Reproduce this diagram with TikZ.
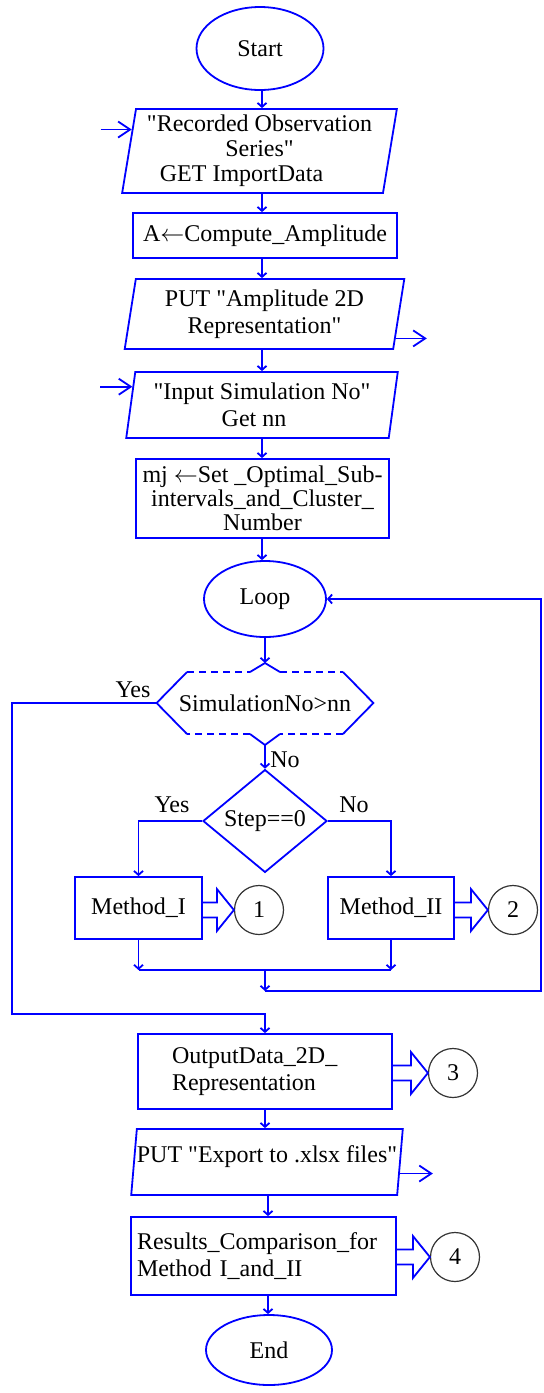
\documentclass[tikz,border=0pt]{standalone}
\usepackage{fontspec}
\setmainfont{Liberation Serif}[Ligatures=TeXOff]
\usetikzlibrary{shapes.geometric,arrows.meta,calc}

% hollow block arrow from a box to its connector circle
\newcommand\hollowarrow[2]{%
  \draw[fat] let \p1=(#1.east), \p2=(#2.west) in
    (\x1,\y2+3.75pt) -- (\x2-8.5pt,\y2+3.75pt) -- (\x2-8.5pt,\y2+10.5pt)
    -- (\x2,\y2) -- (\x2-8.5pt,\y2-10.5pt) -- (\x2-8.5pt,\y2-3.75pt) -- (\x1,\y2-3.75pt);}

\begin{document}
\begin{tikzpicture}[x=0.5pt,y=-0.5pt,
  font=\fontsize{12}{13.5}\selectfont,
  flow/.style={draw=blue,line width=0.9pt},
  arr/.style={flow,-{Straight Barb[length=2pt,width=4.5pt]}},
  ioarr/.style={flow,-{Straight Barb[length=6pt,width=8pt]}},
  fat/.style={flow,line join=miter},
  term/.style={flow,ellipse,inner sep=0pt},
  proc/.style={flow,rectangle,inner sep=0pt,align=center},
  io/.style={flow,trapezium,trapezium left angle=80,trapezium right angle=100,
    trapezium stretches=true,inner sep=0pt,align=center},
  conn/.style={draw=black!80,line width=0.6pt,circle,minimum size=24.5pt,inner sep=0pt},
  dashline/.style={flow,dash pattern=on 3.5pt off 2.5pt}]

\useasboundingbox (0,0) rectangle (543,1393);

% main column
\node[term,minimum width=63.5pt,minimum height=41.5pt] (start) at (260,48.5) {Start};
\node[io,minimum width=137.5pt,minimum height=42pt,font=\fontsize{12}{12.5}\selectfont]
  (obs) at (259.5,151) {"Recorded Observation\\ Series"\hspace*{20pt}\\ GET ImportData\hspace*{18pt}};
\node[proc,minimum width=132pt,minimum height=22.5pt] (amp) at (265,235.5) {A$\leftarrow$Compute\_Amplitude};
\node[io,minimum width=140pt,minimum height=35pt] (ampout) at (264.5,314) {PUT "Amplitude 2D\\ Representation"};
\node[io,minimum width=136pt,minimum height=33pt] (simin) at (262,405) {"Input Simulation No"\\ Get nn\hspace*{8pt}};
\node[proc,minimum width=126.5pt,minimum height=39.5pt,font=\fontsize{12}{12}\selectfont]
  (setmj) at (262.5,498.5) {mj $\leftarrow$Set \_Optimal\_Sub-\\ intervals\_and\_Cluster\_\\ Number};
\node[term,minimum width=61pt,minimum height=38pt] (loop) at (265,599) {Loop};

% decision on the simulation count
\node[minimum width=108pt,minimum height=31pt,inner sep=0pt] (hex) at (265,703) {SimulationNo>nn};
\coordinate (hextop) at (265,663);
\coordinate (hexbot) at (265,745);
\draw[flow] (hex.west) -- (187,672);
\draw[dashline] (187,672) -- (250,672);
\draw[flow] (250,672) -- (hextop) -- (280,672);
\draw[dashline] (280,672) -- (343,672);
\draw[flow] (343,672) -- (hex.east) -- (343,734);
\draw[dashline] (343,734) -- (280,734);
\draw[flow] (280,734) -- (hexbot) -- (250,734);
\draw[dashline] (250,734) -- (187,734);
\draw[flow] (187,734) -- (hex.west);

\node[flow,diamond,minimum width=62pt,minimum height=40pt,inner sep=0pt] (cond) at (265,821) {Step==0};
\node[proc,minimum width=63.5pt,minimum height=31pt] (meth1) at (138.5,908) {Method\_I};
\node[proc,minimum width=63pt,minimum height=31pt] (meth2) at (391,908) {Method\_II};
\node[conn] (c1) at (259,910) {1};
\node[conn] (c2) at (513,910) {2};

% output part
\node[proc,minimum width=127pt,minimum height=37.5pt,text width=93pt,align=left]
  (outdata) at (265,1071.5) {OutputData\_2D\_\\ Representation};
\node[conn] (c3) at (453,1073) {3};
\node[io,minimum width=136pt,minimum height=33pt,text depth=7.5pt] (export) at (267,1162) {PUT "Export to .xlsx files"};
\node[proc,minimum width=132.5pt,minimum height=39pt,text width=126.5pt,align=left]
  (res) at (263.5,1256) {Results\_Comparison\_for\\ Method I\_and\_II};
\node[conn] (c4) at (455,1257) {4};
\node[term,minimum width=63pt,minimum height=35pt] (end) at (269,1350) {End};

% branch labels
\node (yes1) at (133,690) {Yes};
\node (no1) at (285,760) {No};
\node (yes2) at (172,805) {Yes};
\node (no2) at (354,805) {No};

% connectors
\coordinate (colA) at (262,0);
\coordinate (colC) at (268,0);
\coordinate (jA) at (265,970);
\coordinate (jB) at (265,991);
\coordinate (back) at (541,991);
\coordinate (yesturn) at (12,1014);

\draw[arr] (colA |- start.south) -- (colA |- obs.north);
\draw[arr] (colA |- obs.south) -- (colA |- amp.north);
\draw[arr] (colA |- amp.south) -- (colA |- ampout.north);
\draw[arr] (colA |- ampout.south) -- (colA |- simin.north);
\draw[arr] (colA |- simin.south) -- (colA |- setmj.north);
\draw[arr] (colA |- setmj.south) -- (colA |- loop.north);
\draw[arr] (loop.south) -- (hextop);
\draw[arr] (hexbot) -- (cond.north);
\draw[arr] (cond.west) -| (meth1.north);
\draw[arr] (cond.east) -| (meth2.north);
\draw[arr] (meth1.south) -- (meth1.south |- jA);
\draw[arr] (meth2.south) -- (meth2.south |- jA);
\draw[flow] (meth1.south |- jA) -- (meth2.south |- jA);
\draw[arr] (jA) -- (jB);
\draw[arr] (jB) -- (back) |- (loop.east);
\draw[arr] (hex.west) -| (yesturn) -| (outdata.north);
\draw[arr] (outdata.south) -- (outdata.south |- export.north);
\draw[arr] (colC |- export.south) -- (colC |- res.north);
\draw[arr] (colC |- res.south) -- (colC |- end.north);

% data in / data out
\path ($(obs.bottom left corner)!0.75!(obs.top left corner)$) coordinate (obsedge) ++(-31,0) coordinate (obsfree);
\draw[ioarr] (obsfree) -- (obsedge);
\path ($(ampout.bottom right corner)!0.16!(ampout.top right corner)$) coordinate (ampedge) ++(31,0) coordinate (ampfree);
\draw[ioarr] (ampedge) -- (ampfree);
\path ($(simin.bottom left corner)!0.77!(simin.top left corner)$) coordinate (simedge) ++(-32,0) coordinate (simfree);
\draw[ioarr] (simfree) -- (simedge);
\path ($(export.bottom right corner)!0.33!(export.top right corner)$) coordinate (expedge) ++(33,0) coordinate (expfree);
\draw[ioarr] (expedge) -- (expfree);

\hollowarrow{meth1}{c1}
\hollowarrow{meth2}{c2}
\hollowarrow{outdata}{c3}
\hollowarrow{res}{c4}
\end{tikzpicture}
\end{document}
